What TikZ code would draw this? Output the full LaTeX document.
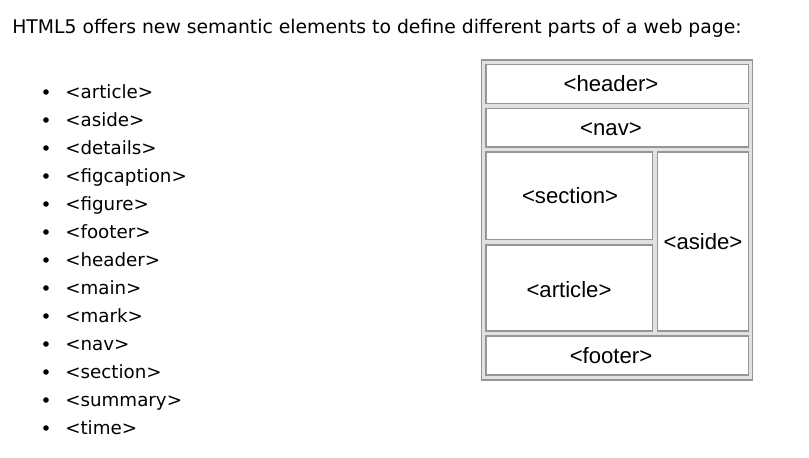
\documentclass[tikz,border=0pt]{standalone}
\usepackage{fontspec}
\setmainfont{DejaVu Sans}
\newfontfamily\boxfont{Liberation Sans}
\definecolor{edge}{RGB}{150,150,150}
\definecolor{gap}{RGB}{225,225,225}
\begin{document}
\begin{tikzpicture}[x=0.75pt,y=-0.75pt,
  txt/.style={anchor=base west,inner sep=0pt,font=\fontsize{13.7}{15}\selectfont},
  bul/.style={circle,fill=black,inner sep=0pt,minimum size=4.2pt},
  part/.style={draw=edge,fill=white,line width=1pt},
  lbl/.style={font=\boxfont\fontsize{16.6}{18}\selectfont,inner sep=0pt}]
\useasboundingbox (0,0) rectangle (809,457);
\node[txt,font=\fontsize{14.1}{16}\selectfont] (title) at (12,33) {HTML5 offers new semantic elements to define different parts of a web page:};
\foreach \t [count=\i] in {article,aside,details,figcaption,figure,footer,header,main,mark,nav,section,summary,time}{
  \node[bul] (b\i) at (46,{92+(\i-1)*28}) {};
  \node[txt] (l\i) at (65,{98+(\i-1)*28}) {<\t>};
}
% diagram
\draw[draw=edge,fill=gap,line width=1.2pt] (481.5,60) rectangle (752.5,380);
\draw[part] (486,64.5) rectangle (748.5,103.5);
\draw[part] (486,108.5) rectangle (748.5,147);
\draw[part] (486,152) rectangle (652.5,239.5);
\draw[part] (486,245) rectangle (652.5,331);
\draw[part] (657.5,152) rectangle (748.5,331);
\draw[part] (486,336) rectangle (748.5,375);
\node[lbl] (header) at (611,84) {<header>};
\node[lbl] (nav) at (611,129) {<nav>};
\node[lbl] (section) at (570,196) {<section>};
\node[lbl] (article) at (569,290) {<article>};
\node[lbl] (aside) at (703,242) {<aside>};
\node[lbl] (footer) at (611,356) {<footer>};
\end{tikzpicture}
\end{document}
